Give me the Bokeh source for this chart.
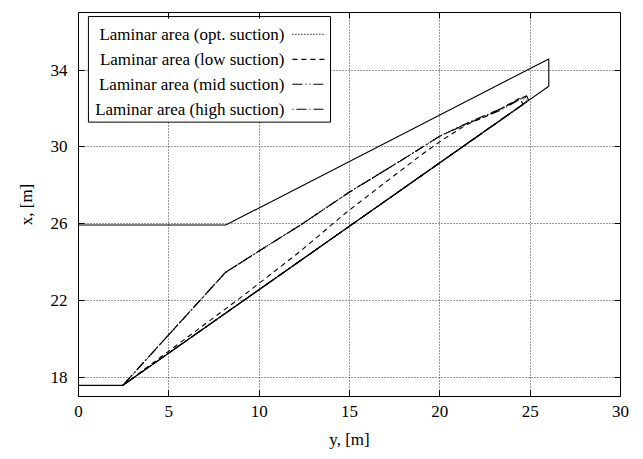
from bokeh.plotting import figure
from bokeh.models import FixedTicker, LinearAxis, Range1d
from bokeh.core.properties import value
from bokeh.embed import file_html
from bokeh.resources import INLINE

FONT = "Liberation Serif"

# Wing planform outline: spanwise position y [m] (horizontal), chordwise x [m] (vertical)
wing_y = [0.0, 8.15, 26.03, 26.03, 2.45, 0.0]
wing_x = [25.93, 25.93, 34.58, 33.16, 17.58, 17.58]

# Laminar areas: front boundary from the root kink to the tip, then back along the trailing edge
opt_y = [2.45, 8.13, 10.0, 12.3, 15.0, 17.8, 20.0, 21.7, 23.35, 24.7, 24.85, 2.45]
opt_x = [17.58, 23.46, 24.58, 25.94, 27.65, 29.26, 30.56, 31.3, 31.95, 32.62, 32.38, 17.58]

low_y = [2.45, 9.24, 12.3, 14.8, 17.2, 19.0, 20.2, 21.5, 22.8, 24.45, 24.6, 2.45]
low_x = [17.58, 22.34, 24.58, 26.57, 28.31, 29.6, 30.4, 31.17, 31.69, 32.55, 32.21, 17.58]

mid_y = [2.45, 8.13, 10.0, 12.3, 15.0, 17.8, 20.0, 21.7, 23.35, 24.6, 24.78, 2.45]
mid_x = [17.58, 23.46, 24.58, 25.94, 27.65, 29.26, 30.56, 31.28, 31.9, 32.58, 32.34, 17.58]

high_y = [2.45, 8.13, 10.0, 12.3, 15.0, 17.8, 20.0, 21.7, 23.35, 24.8, 24.92, 2.45]
high_x = [17.58, 23.46, 24.58, 25.94, 27.65, 29.26, 30.56, 31.32, 31.98, 32.66, 32.42, 17.58]

series_labels = [
    "Laminar area (opt. suction)",
    "Laminar area (low suction)",
    "Laminar area (mid suction)",
    "Laminar area (high suction)",
]
series_y = [opt_y, low_y, mid_y, high_y]
series_x = [opt_x, low_x, mid_x, high_x]
series_dash = ["1 2", "5 4", "10 3 1 3 1 3", "1 3 10 3"]

y_ticks = [0, 5, 10, 15, 20, 25, 30]
x_ticks = [18, 22, 26, 30, 34]

p = figure(
    frame_width=542, frame_height=384,
    x_range=Range1d(0, 30), y_range=Range1d(17, 37),
    output_backend="svg", toolbar_location=None,
    min_border_left=78, min_border_right=23, min_border_top=12, min_border_bottom=63,
    background_fill_color="white", border_fill_color="white",
)
p.outline_line_color = "black"
p.outline_line_width = 1

p.xaxis.ticker = FixedTicker(ticks=y_ticks)
p.yaxis.ticker = FixedTicker(ticks=x_ticks)
p.xaxis.axis_label = "y, [m]"
p.yaxis.axis_label = "x, [m]"

for ax in (p.xaxis[0], p.yaxis[0]):
    ax.axis_line_color = None
    ax.major_tick_in = 6
    ax.major_tick_out = 0
    ax.minor_tick_line_color = None
    ax.major_tick_line_color = "black"
    ax.major_label_text_font = FONT
    ax.major_label_text_font_size = "17px"
    ax.major_label_text_color = "black"
    ax.axis_label_text_font = FONT
    ax.axis_label_text_font_size = "17px"
    ax.axis_label_text_font_style = "normal"
    ax.axis_label_text_color = "black"

p.xaxis.major_label_standoff = 9
p.xaxis.axis_label_standoff = 10
p.yaxis.major_label_standoff = 11
p.yaxis.axis_label_standoff = 12

# Mirrored ticks on the top and right borders (no labels)
for loc, ticks in (("above", y_ticks), ("right", x_ticks)):
    mirror = LinearAxis(ticker=FixedTicker(ticks=ticks))
    mirror.axis_line_color = None
    mirror.major_tick_in = 6
    mirror.major_tick_out = 0
    mirror.minor_tick_line_color = None
    mirror.major_label_overrides = {t: "" for t in ticks}
    mirror.major_label_standoff = 0
    p.add_layout(mirror, loc)

p.grid.grid_line_color = "#333333"
p.grid.grid_line_dash = "1 2"
p.grid.grid_line_width = 1

# Wing planform
p.line(wing_y, wing_x, line_color="black", line_width=1.1)

# Laminar areas
for ys, xs, dash in zip(series_y, series_x, series_dash):
    p.line(ys, xs, line_color="black", line_width=1.1, line_dash=dash)

# Legend box (text left of the line sample)
p.quad(left=[0.55], right=[13.95], bottom=[31.29], top=[36.79],
       fill_color="white", line_color="black", line_width=1)
row_x = [35.86, 34.56, 33.26, 31.96]
p.text(x=[11.4] * 4, y=row_x, text=series_labels,
       text_font=value(FONT), text_font_size="17px", text_color="black",
       text_align="right", text_baseline="middle")
for rx, dash in zip(row_x, series_dash):
    p.line([11.84, 13.67], [rx, rx], line_color="black", line_width=1.1, line_dash=dash)

open("out.html", "w").write(file_html(p, INLINE))
